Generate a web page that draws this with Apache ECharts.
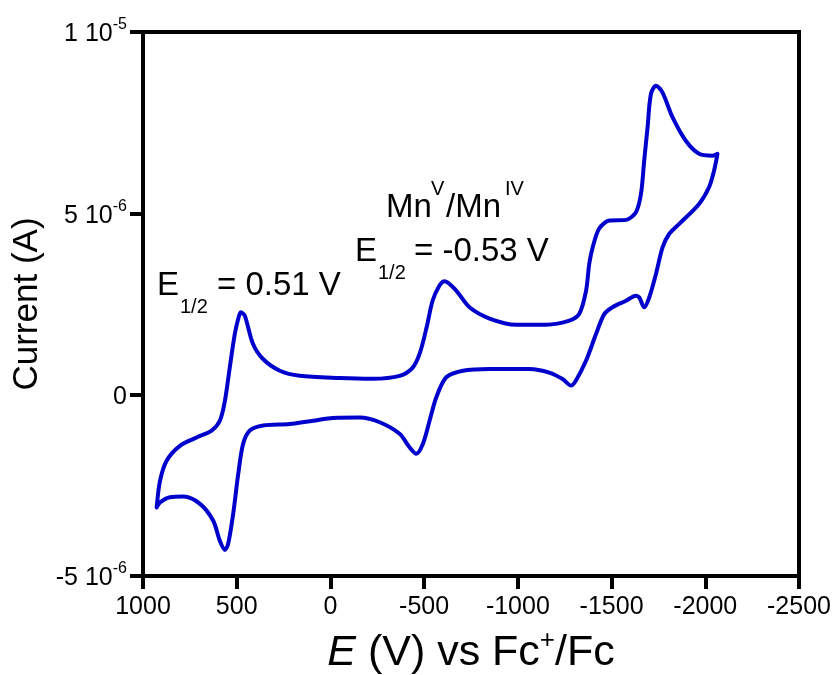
<!DOCTYPE html>
<html>
<head>
<meta charset="utf-8">
<style>
  html, body { margin: 0; padding: 0; background: #fff; }
  #chart { width: 833px; height: 675px; }
</style>
<script src="https://cdn.jsdelivr.net/npm/echarts@6/dist/echarts.min.js"></script>
</head>
<body>
<div id="chart"></div>
<script>
// Cyclic voltammogram: potential (mV vs Fc+/Fc) and current (µA), traced as one closed loop
const potential_mV = [
  927, 909, 874, 803, 714, 634, 590, 563, 537, 510, 489, 478, 457, 414, 361, 270, 164,
  -49, -225, -369, -438, -476, -513, -545, -582, -609, -671, -742, -849, -991, -1151,
  -1275, -1328, -1364, -1381, -1399, -1434, -1488, -1577, -1630, -1657, -1674, -1692,
  -1710, -1737, -1772, -1825, -1896, -1967, -2038, -2065,
  -2047, -2020, -1967, -1861, -1807, -1772, -1737, -1701, -1674, -1648, -1630, -1577,
  -1505, -1461, -1417, -1364, -1310, -1284, -1239, -1168, -1062, -849, -706, -618,
  -565, -529, -493, -458, -422, -369, -263, -156, -14, 93, 217, 359, 430, 466, 492,
  519, 546, 563, 590, 626, 696, 785, 856, 909, 927
];
const current_uA = [
  -3.11, -2.37, -1.82, -1.41, -1.18, -0.99, -0.72, -0.17, 0.75, 1.68, 2.15, 2.27, 2.18, 1.41, 0.99, 0.66, 0.52,
  0.46, 0.44, 0.52, 0.74, 1.13, 1.85, 2.59, 3.01, 3.13, 2.87, 2.41, 2.10, 1.93, 1.93,
  2.04, 2.23, 2.87, 3.61, 4.06, 4.58, 4.80, 4.82, 5.03, 5.54, 6.45, 7.37,
  8.29, 8.52, 8.33, 7.65, 7.00, 6.64, 6.59, 6.64,
  6.18, 5.72, 5.26, 4.71, 4.43, 4.06, 3.33, 2.68, 2.41, 2.68, 2.73, 2.59,
  2.41, 2.22, 1.67, 0.94, 0.39, 0.25, 0.43, 0.61, 0.71, 0.71, 0.66, 0.48,
  -0.07, -0.72, -1.36, -1.63, -1.45, -1.08, -0.76, -0.63, -0.64, -0.72, -0.81, -0.85, -0.99, -1.36, -2.19,
  -3.29, -4.12, -4.28, -4.03, -3.47, -3.01, -2.81, -2.83, -2.97, -3.11
];

// Axis ticks
const xTicks = [1000, 500, 0, -500, -1000, -1500, -2000, -2500];
const yTicks = [-5e-6, 0, 5e-6, 1e-5];
const yTickMantissa = ['-5', '0', '5', '1'];
const yTickExponent = ['-6', '', '-6', '-5'];

const cvData = potential_mV.map((e, i) => [e, current_uA[i] * 1e-6]);

const FONT = '"Liberation Sans", Arial, sans-serif';
const ANNO = 33;   // annotation font size
const SUB = 20;    // sub/superscript size in annotations

function yLabel(v) {
  let k = 0;
  for (let i = 1; i < yTicks.length; i++) {
    if (Math.abs(yTicks[i] - v) < Math.abs(yTicks[k] - v)) k = i;
  }
  if (!yTickExponent[k]) return '{b|' + yTickMantissa[k] + '}';
  return '{b|' + yTickMantissa[k] + ' 10}{s|' + yTickExponent[k] + '}';
}

function txt(left, top, text, size) {
  return { type: 'text', left: left, top: top, style: { text: text, font: size + 'px ' + FONT, fill: '#000' } };
}

const chart = echarts.init(document.getElementById('chart'), null, { renderer: 'canvas' });

chart.setOption({
  backgroundColor: '#ffffff',
  animation: false,
  grid: {
    left: 143, right: 34, top: 32, bottom: 99,
    outerBoundsMode: 'none',
    containLabel: false,
    show: true, borderColor: '#000', borderWidth: 4, backgroundColor: 'transparent'
  },
  xAxis: {
    type: 'value',
    inverse: true,
    min: xTicks[xTicks.length - 1],
    max: xTicks[0],
    interval: 500,
    splitLine: { show: false },
    axisLine: { show: true, onZero: false, lineStyle: { color: '#000', width: 4 } },
    axisTick: { show: true, inside: false, length: 13, lineStyle: { color: '#000', width: 4 } },
    axisLabel: {
      color: '#000', fontFamily: FONT, fontSize: 25, margin: 19,
      formatter: (v) => String(v)
    },
    name: '{i|E}{r| (V) vs Fc}{s|+}{r|/Fc}',
    nameLocation: 'middle',
    nameGap: 52,
    nameTextStyle: {
      rich: {
        i: { fontFamily: FONT, fontSize: 43, fontStyle: 'italic', color: '#000', verticalAlign: 'bottom', lineHeight: 47 },
        r: { fontFamily: FONT, fontSize: 43, color: '#000', verticalAlign: 'bottom', lineHeight: 47 },
        s: { fontFamily: FONT, fontSize: 26, color: '#000', verticalAlign: 'top', lineHeight: 20 }
      }
    }
  },
  yAxis: {
    type: 'value',
    min: yTicks[0],
    max: yTicks[yTicks.length - 1],
    interval: 5e-6,
    splitLine: { show: false },
    axisLine: { show: true, onZero: false, lineStyle: { color: '#000', width: 4 } },
    axisTick: { show: true, inside: false, length: 13, lineStyle: { color: '#000', width: 4 } },
    axisLabel: {
      margin: 16,
      formatter: yLabel,
      rich: {
        b: { fontFamily: FONT, fontSize: 25, color: '#000', verticalAlign: 'bottom', lineHeight: 30 },
        s: { fontFamily: FONT, fontSize: 16, color: '#000', verticalAlign: 'top', lineHeight: 16 }
      }
    },
    name: 'Current (A)',
    nameLocation: 'middle',
    nameGap: 87,
    nameTextStyle: { fontFamily: FONT, fontSize: 35, color: '#000' }
  },
  series: [{
    type: 'line',
    data: cvData,
    showSymbol: false,
    smooth: 0.3,
    lineStyle: { color: '#0000cd', width: 4, join: 'round', cap: 'round' },
    clip: false
  }],
  graphic: [
    txt(157, 269, 'E', ANNO),
    txt(180, 297, '1/2', SUB),
    txt(217, 269, '= 0.51 V', ANNO),

    txt(386, 191, 'Mn', ANNO),
    txt(431, 179, 'V', SUB),
    txt(446, 191, '/Mn', ANNO),
    txt(505, 179, 'IV', SUB),

    txt(355, 235, 'E', ANNO),
    txt(378, 263, '1/2', SUB),
    txt(414, 235, '= -0.53 V', ANNO)
  ]
});
</script>
</body>
</html>
